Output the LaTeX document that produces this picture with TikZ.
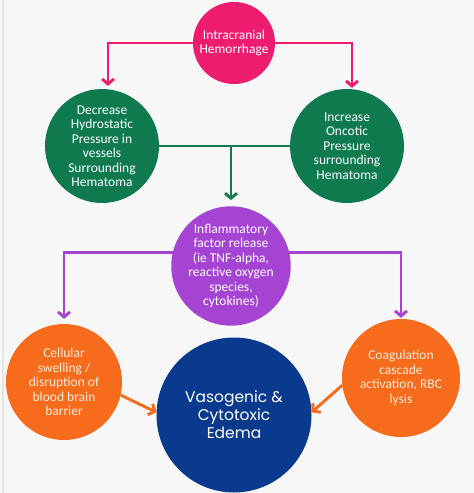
\documentclass[tikz,border=0pt]{standalone}
\usepackage{fontspec}
\setmainfont{Carlito}
\newfontfamily\geofont{Poppins}
\usepackage{xcolor}
\usetikzlibrary{arrows.meta}

\definecolor{bgcol}{HTML}{F7F7F7}
\definecolor{pinkc}{HTML}{EE1C6F}
\definecolor{greenc}{HTML}{0E7A4E}
\definecolor{purplec}{HTML}{A543D3}
\definecolor{orangec}{HTML}{F76B1C}
\definecolor{bluec}{HTML}{0A3A8E}

\begin{document}
\begin{tikzpicture}[x=1pt, y=-1pt,
    bubble/.style={circle, inner sep=0pt, align=center, text=white,
        font=\fontsize{13.5}{14.5}\selectfont},
    link/.style={line width=2.9pt},
    arr/.style={link, -{Straight Barb[length=5pt, width=12pt]}}]
        \clip (0,0) rectangle (474,493);
        \fill[bgcol] (0,0) rectangle (474,493);
        \draw[line width=1.5pt, black!10] (3,0) -- (3,493);

        \node[bubble, fill=pinkc, minimum size=82pt](ich) at (234,43) {Intracranial\\Hemorrhage};
        \node[bubble, fill=greenc, minimum size=114pt](dec) at (102,146) {Decrease\\Hydrostatic\\Pressure in\\vessels\\Surrounding\\Hematoma};
        \node[bubble, fill=greenc, minimum size=114pt](inc) at (347,146) {Increase\\Oncotic\\Pressure\\surrounding\\Hematoma};
        \node[bubble, fill=purplec, minimum size=112pt](infl) at (231,266) {Inflammatory\\factor release\\(ie TNF-alpha,\\reactive oxygen\\species,\\cytokines)};
        \node[bubble, fill=orangec, minimum size=116pt, text=orange!15](cell) at (64,382) {Cellular\\swelling /\\disruption of\\blood brain\\barrier};
        \node[bubble, fill=orangec, minimum size=118pt, text=orange!15](coag) at (401,378) {Coagulation\\cascade\\activation, RBC\\lysis};
        \node[bubble, fill=bluec, minimum size=155pt, font=\geofont\fontsize{15.5}{18}\selectfont](edema) at (234,415) {Vasogenic \&\\Cytotoxic\\Edema};

        % first level
        \draw[arr, pinkc](ich.west) -| ([xshift=6pt, yshift=3pt]dec.north);
        \draw[arr, pinkc](ich.east) -| ([xshift=5pt, yshift=1pt]inc.north);
        % join of the two pressures
        \draw[link, greenc](dec.east) -- (inc.west);
        \draw[arr, greenc](dec.east -| infl.north) -- ([yshift=6pt]infl.north);
        % split to the two causes
        \draw[arr, purplec](infl.167) -| ([yshift=5pt]cell.north);
        \draw[arr, purplec](infl.13) -| ([yshift=1pt]coag.north);
        \draw[arr, orangec](cell.-13) -- (edema.178);
        \draw[arr, orangec](coag.-173) -- (edema.2);
        \end{tikzpicture}
\end{document}
